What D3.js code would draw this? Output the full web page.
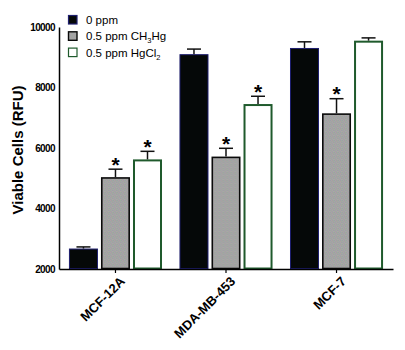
<!DOCTYPE html>
<html>
<head>
<meta charset="utf-8">
<script src="https://cdn.jsdelivr.net/npm/d3@7"></script>
<style>
  body { margin: 0; background: #fff; }
  svg { display: block; font-family: Arial, "Liberation Sans", sans-serif; }
</style>
</head>
<body>
<svg id="chart" width="405" height="350"></svg>
<script>
// ---- data ----
const categories = ["MCF-12A", "MDA-MB-453", "MCF-7"];
const seriesNames = ["0 ppm", "0.5 ppm CH3Hg", "0.5 ppm HgCl2"];
const meanValues = [
  [2660, 5010, 5590],
  [9085, 5690, 7420],
  [9290, 7120, 9515]
];
const errorTops = [
  [2730, 5300, 5890],
  [9270, 5990, 7710],
  [9510, 7630, 9640]
];
// significance marks (true = star)
const starred = [
  [false, true, true],
  [false, true, true],
  [false, true, false]
];
const yTicks = [2000, 4000, 6000, 8000, 10000];

const svg = d3.select("#chart");
const width = 405, height = 350;
const margin = { top: 27, right: 12, bottom: 81, left: 59 };

// gray noise texture
const defs = svg.append("defs");
const pat = defs.append("pattern")
  .attr("id", "noise")
  .attr("width", 4).attr("height", 4)
  .attr("patternUnits", "userSpaceOnUse");
const noiseCols = ["#98a0aa", "#aea69c", "#a49ca8", "#9eaa9e",
                   "#a8a6a0", "#9ca2ac", "#aaa0a2", "#a0aa9c",
                   "#a49ea8", "#9eaaa0", "#aca4a0", "#9ca0aa",
                   "#a6aaa0", "#a69ea6", "#9ca6aa", "#aea6a0"];
noiseCols.forEach((c, i) => {
  pat.append("rect").attr("x", i % 4).attr("y", Math.floor(i / 4))
    .attr("width", 1).attr("height", 1).attr("fill", c);
});

const styles = [
  { fill: "#050808", stroke: "#1e1e6e", sw: 1 },
  { fill: "url(#noise)", stroke: "#0a0a0a", sw: 1.6 },
  { fill: "#ffffff", stroke: "#1f5a2c", sw: 2 }
];

const x0 = d3.scaleBand()
  .domain(categories)
  .range([margin.left, width - margin.right])
  .paddingInner(0.158)
  .paddingOuter(0.09);

const x1 = d3.scaleBand()
  .domain(d3.range(seriesNames.length))
  .range([0, x0.bandwidth()])
  .paddingInner(0.094)
  .paddingOuter(0);

const y = d3.scaleLinear()
  .domain([2000, 10000])
  .range([height - margin.bottom, margin.top]);

// y axis
svg.append("g")
  .attr("transform", `translate(${margin.left},0)`)
  .call(d3.axisLeft(y).tickValues(yTicks).tickSize(0).tickPadding(4).tickFormat(d3.format("d")))
  .call(g => g.select(".domain").attr("stroke", "#000").attr("stroke-width", 1.5))
  .call(g => g.selectAll("text")
    .attr("font-size", "10px").attr("font-weight", "bold").attr("letter-spacing", "-0.6px")
    .attr("fill", "#000"));

svg.append("text")
  .attr("transform", `translate(23,${(margin.top + height - margin.bottom) / 2 + 2}) rotate(-90)`)
  .attr("text-anchor", "middle")
  .attr("font-size", "15px")
  .attr("font-weight", "bold")
  .text("Viable Cells (RFU)");

// bars
const groups = svg.append("g")
  .selectAll("g")
  .data(categories)
  .join("g")
  .attr("transform", d => `translate(${x0(d)},0)`);

groups.selectAll("rect")
  .data((d, i) => meanValues[i].map((v, j) => ({ v, j })))
  .join("rect")
  .attr("x", d => x1(d.j) + styles[d.j].sw / 2)
  .attr("y", d => y(d.v))
  .attr("width", d => x1.bandwidth() - styles[d.j].sw)
  .attr("height", d => y(2000) - y(d.v) - 0.5)
  .attr("fill", d => styles[d.j].fill)
  .attr("stroke", d => styles[d.j].stroke)
  .attr("stroke-width", d => styles[d.j].sw);

// error bars (upper only)
const errG = groups.selectAll("g.err")
  .data((d, i) => meanValues[i].map((v, j) => ({ v, e: errorTops[i][j], j, s: starred[i][j] })))
  .join("g")
  .attr("class", "err")
  .attr("transform", d => `translate(${x1(d.j) + x1.bandwidth() / 2},0)`);

errG.append("line")
  .attr("x1", 0).attr("x2", 0)
  .attr("y1", d => y(d.v) - styles[d.j].sw / 2)
  .attr("y2", d => y(d.e))
  .attr("stroke", "#111").attr("stroke-width", 1.5);

errG.append("line")
  .attr("x1", -7).attr("x2", 7)
  .attr("y1", d => y(d.e)).attr("y2", d => y(d.e))
  .attr("stroke", "#111").attr("stroke-width", 1.5);

errG.filter(d => d.s).append("text")
  .attr("x", 0)
  .attr("y", d => y(d.e) + 2.5)
  .attr("text-anchor", "middle")
  .attr("font-size", "21px")
  .attr("font-weight", "bold")
  .text("*");

// x axis
svg.append("g")
  .attr("transform", `translate(0,${height - margin.bottom})`)
  .call(d3.axisBottom(x0).tickSizeOuter(0).tickSizeInner(4))
  .call(g => g.select(".domain").attr("stroke", "#000").attr("stroke-width", 1.5))
  .call(g => g.selectAll(".tick line").attr("stroke", "#000").attr("stroke-width", 1.2))
  .call(g => g.selectAll(".tick text")
    .attr("font-size", "13px").attr("font-weight", "bold").attr("fill", "#000")
    .attr("text-anchor", "end")
    .attr("dy", "0.35em")
    .attr("transform", "translate(7,10) rotate(-45)")
    .attr("y", 0).attr("x", 0));

// legend
const legend = svg.append("g").attr("transform", "translate(68,15)");
const legendLabels = [
  [{ t: "0 ppm" }],
  [{ t: "0.5 ppm CH" }, { t: "3", sub: true }, { t: "Hg" }],
  [{ t: "0.5 ppm HgCl" }, { t: "2", sub: true }]
];
legendLabels.forEach((parts, i) => {
  const row = legend.append("g").attr("transform", `translate(0,${i * 16.3})`);
  row.append("rect")
    .attr("x", 0.5).attr("y", 0.5)
    .attr("width", 8.5).attr("height", 8.5)
    .attr("fill", styles[i].fill)
    .attr("stroke", styles[i].stroke)
    .attr("stroke-width", i === 1 ? 1.4 : 1.2);
  const t = row.append("text")
    .attr("x", 18).attr("y", 9)
    .attr("font-size", "11.5px")
    .attr("fill", "#000");
  parts.forEach(p => {
    const ts = t.append("tspan").text(p.t);
    if (p.sub) ts.attr("font-size", "7.5px").attr("dy", "3");
    else if (t.selectAll("tspan").size() > 1) ts.attr("dy", "-3");
  });
});
</script>
</body>
</html>
